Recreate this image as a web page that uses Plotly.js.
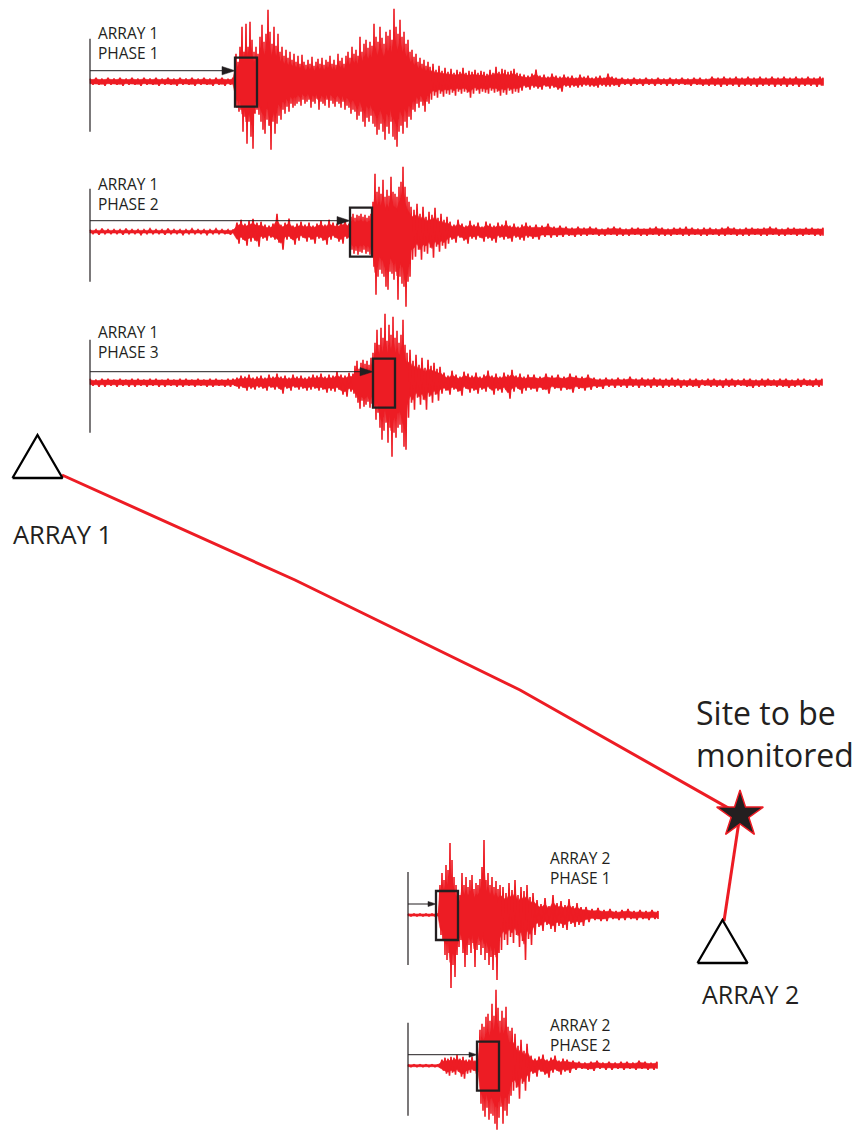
<!DOCTYPE html>
<html>
<head>
<meta charset="utf-8">
<script src="https://cdn.plot.ly/plotly-3.0.1.min.js"></script>
<style>html,body{margin:0;padding:0;background:#fff;}#chart{width:865px;height:1133px;}</style>
</head>
<body>
<div id="chart"></div>
<script>
// ---------------- DATA ----------------
// Seismogram envelopes: time (relative sample units) and positive / negative peak amplitude
const a1p1_t = [0,6,12,18,24,30,36,42,48,54,60,66,72,78,84,90,96,102,108,114,120,126,132,138,143,
  146,148,150,152,154,156,158,160,162,164,166,168,170,172,174,176,178,180,182,184,
  186,188,190,192,194,196,198,200,202,204,206,208,210,212,214,216,218,220,222,224,
  226,228,230,232,234,236,238,240,242,244,246,248,250,252,254,256,258,260,262,264,
  266,268,270,272,274,276,278,280,282,284,286,288,290,292,294,296,298,300,302,304,
  306,308,310,312,314,316,318,320,322,324,326,328,330,332,334,336,338,340,
  343,346,349,352,355,358,361,364,367,370,373,376,379,382,385,388,391,394,397,400,403,406,409,412,415,418,421,424,427,
  430,434,438,442,446,450,454,458,462,466,470,474,478,482,486,490,494,498,502,506,510,514,518,522,526,
  532,538,544,550,556,562,568,574,580,586,592,598,604,610,616,622,628,634,640,646,652,658,664,670,676,682,688,694,700,706,712,718,724,730,733];
const a1p1_up = [3,4,3,4,3,4,3,4,3,4,3,4,3,4,3,4,3,4,3,4,3,4,4,3,4,
  28,20,35,55,30,58,35,60,42,30, 35,28,45,57,40,48,72,50,38,55,
  36,48,30,35,26,32,24,30,22,28, 20,26,18,27,20,17,22,18,25,16,
  20,23,18,24,17,22,20,26,18,22, 17,28,21,24,18,26,30,24,35,28,
  32,26,45,30,38,42,34,40,36,58, 45,40,55,44,38,50,46,52,42,73,
  55,48,62,45,50,38,42,30,32,25, 28,20,24,18,22,16,20,15,
  18,12,16,11,14,10,13,9,12,10, 14,9,11,10,12,9,11,10,8,12, 9,15,10,13,12,10,11,13,9,
  8,7,6,8,12,6,7,5,8,6, 5,7,5,6,4,7,5,6,4,5, 6,4,8,5,4,
  4,3,4,3,4,3,4,3,4,3, 4,3,4,4,3,5,4,5,4,5, 4,5,4,5,4,5,4,5,4,5, 4,5,4,5,4];
const a1p1_dn = [3,3,4,3,3,4,3,3,4,3,3,4,3,3,4,3,3,4,3,3,4,3,4,3,4,
  26,30,28,50,35,62,40,55,67,32, 28,33,40,48,52,38,44,68,40,52,
  42,34,38,28,32,25,30,22,26,24, 22,20,24,18,22,20,18,26,20,22,
  17,28,20,22,24,18,26,19,22,25, 20,22,26,20,28,24,26,32,28,30,
  38,34,30,40,45,36,40,34,42,45, 53,48,42,50,58,45,52,40,55,58,
  65,50,44,52,40,46,35,38,28,30, 22,26,20,24,30,20,22,18,
  14,16,12,15,12,13,11,14,10,12, 10,11,16,12,9,12,10,11,12,9, 11,10,14,11,13,9,12,10,11,
  9,6,8,6,7,8,5,7,6,8, 10,5,6,5,6,5,4,5,5,6, 4,5,5,4,5,
  3,4,3,4,3,4,3,4,4,3, 3,4,3,4,4,4,5,4,4,5, 4,4,5,4,4,5,4,5,4,5, 4,4,5,4,4];

const a1p2_t = [0,6,12,18,24,30,36,42,48,54,60,66,72,78,84,90,96,102,108,114,120,126,132,138,143,
  147,151,155,159,163,167,171,175,179,183,187,191,195,199,203,207,211,215,219,223,227,231,235,239,243,247,251,255,259,
  261,263,265,267,269,271,273,275,277,279,281,
  283,285,287,289,291,293,295,297,299,301,303,305,307,309,311,313,315,317,319,321,
  324,327,330,333,336,339,342,345,348,351,354,357,
  360,364,368,372,376,380,384,388,392,396,400,404,408,412,416,420,424,428,432,436,440,
  446,452,458,464,470,476,482,488,494,500,506,512,518,524,530,536,542,548,554,560,566,572,578,584,590,596,602,608,614,620,626,632,638,644,650,656,662,668,674,680,686,692,698,704,710,716,722,728,733];
const a1p2_up = [2,2,3,2,2,2,3,2,2,2, 3,2,2,3,2,2,2,3,2,2, 2,3,2,2,2,
  9,12,8,11,13,9,10,7,6,8, 18,7,9,13,6,8,10,7,9,6, 8,11,7,12,9,8,10,12,8,
  15,18,14,17,16,18,15,17,14,16,18,
  30,58,40,45,38,52,35,42,36,55,40,38,35,45,50,65,45,35,30,25,
  22,28,18,25,15,20,17,24,14,18,12,15,
  10,7,12,8,6,11,7,9,5,10, 8,6,9,7,11,6,8,5,7,9, 6,
  7,6,8,5,6,5,4,5,4,5, 4,3,4,5,4,3,4,4,3,4, 5,4,3,4,4,5,4,3,4,4, 3,4,5,4,3,4,4,3,4,5, 4,3,4,4,3,4,4,3,4];
const a1p2_dn = [2,3,2,2,2,3,2,2,3,2, 2,2,3,2,2,3,2,2,2,3, 2,2,2,3,2,
  12,8,14,10,9,15,7,9,6,8, 11,18,8,7,13,9,6,10,8,12, 7,9,13,8,6,10,12,7,9,
  18,22,19,23,20,21,18,22,20,23,21,
  35,63,45,38,42,45,55,58,40,42,48,40,68,45,52,55,75,50,45,28,
  25,18,28,20,22,16,26,15,20,14,17,12,
  8,11,6,9,12,7,8,6,10,7, 9,11,6,8,7,10,6,8,9,6, 7,
  8,5,6,5,5,4,5,4,4,3, 4,4,3,4,4,4,3,4,4,3, 4,4,4,3,4,4,3,4,4,3, 4,4,3,4,4,4,3,4,4,3, 4,4,3,4,4,3,4,4,4];

const a1p3_t = [0,6,12,18,24,30,36,42,48,54,60,66,72,78,84,90,96,102,108,114,120,126,132,138,143,
  147,151,155,159,163,167,171,175,179,183,187,191,195,199,203,207,211,215,219,223,227,231,235,239,243,247,251,255,259,263,
  265,267,269,271,273,275,277,279,281,
  283,285,287,289,291,293,295,297,299,301,303,305,307,309,311,313,315,317,
  320,323,326,329,332,335,338,341,344,347,350,
  354,358,362,366,370,374,378,382,386,390,394,398,402,406,410,414,418,422,426,430,434,438,
  444,450,456,462,468,474,480,486,492,498,504,510,516,522,528,534,540,546,552,558,564,570,576,582,588,594,600,606,612,618,624,630,636,642,648,654,660,666,672,678,684,690,696,702,708,714,720,726,732];
const a1p3_up = [4,3,4,4,3,4,3,4,4,3, 4,4,3,4,3,4,4,3,4,3, 4,4,3,4,4,
  5,7,6,8,5,6,7,5,8,6, 9,6,7,5,8,6,7,5,6,8, 7,9,6,8,7,11,8,7,10,9,
  17,22,14,20,23,19,22,18,25,
  30,40,53,38,55,45,69,42,58,48,66,45,52,40,48,63,38,30,
  33,22,28,18,25,15,23,17,20,14,16,
  10,7,12,8,6,11,9,7,10,6, 8,12,7,9,6,10,8,13,7,9, 6,8,
  8,6,9,7,8,6,9,7,6,8, 5,4,5,4,5,4,6,4,5,4, 5,4,4,5,4,3,4,4,3,4, 4,3,4,4,3,4,4,3,4,4, 3,4,4,3,4,4,3,4,4];
const a1p3_dn = [3,4,4,3,4,3,4,4,3,4, 3,4,4,3,4,4,3,4,3,4, 4,3,4,4,3,
  6,5,8,6,7,5,6,8,5,7, 6,11,6,8,5,7,6,8,7,6, 8,7,10,8,9,7,12,14,9,11,
  15,20,26,18,24,22,19,25,21,
  25,37,30,45,57,48,40,60,45,74,50,55,45,42,50,64,67,35,
  20,27,15,22,17,27,14,20,12,18,11,
  8,12,7,9,13,6,10,8,11,7, 9,6,12,8,10,7,16,9,6,11, 8,7,
  9,7,11,6,8,7,10,6,8,7, 5,6,4,5,4,5,4,5,4,5, 4,5,4,4,5,4,4,5,3,4, 4,5,4,4,3,4,5,4,4,3, 4,4,5,4,4,3,4,4,3];

const a2p1_t = [0,6,12,18,24,30,
  32,34,36,38,40,42,44,46,48,50,52,54,56,58,60,62,64,66,68,70,72,74,76,78,80,82,84,86,88,90,92,
  95,98,101,104,107,110,113,116,119,122,125,
  129,133,137,141,145,149,153,157,161,165,169,173,
  178,184,190,196,202,208,214,220,226,232,238,244,250];
const a2p1_up = [1,1,1,1,1,1,
  30,42,35,50,45,72,55,38,30,25,20,42,30,38,28,35,40,26,32,30,36,48,75,35,42,30,38,28,34,26,30,
  28,22,32,25,35,20,28,24,30,18,22,
  15,11,17,9,20,12,14,10,16,9,12,8,
  8,6,7,5,6,4,5,6,4,5,4,5,4];
const a2p1_dn = [1,1,1,1,1,1,
  20,25,40,45,38,73,50,62,40,32,25,38,52,40,30,38,28,52,35,30,40,33,45,38,50,42,55,40,65,38,35,
  25,30,22,28,20,32,26,45,24,30,20,
  12,16,10,14,17,11,13,15,9,12,10,11,
  7,5,6,6,4,5,5,4,5,4,5,4,4];

const a2p2_t = [0,6,12,18,24,30,
  34,37,40,43,46,49,52,55,58,
  61,64,67,70,
  72,74,76,78,80,82,84,86,88,90,92,94,96,98,100,102,104,
  107,110,113,116,119,
  123,127,131,135,139,143,147,151,155,159,
  165,171,177,183,189,195,201,207,213,219,225,231,237,243,249];
const a2p2_up = [1,1,1,1,1,1,
  6,8,7,9,8,11,7,9,6,
  6,9,5,7,
  36,42,39,49,52,45,62,50,76,58,45,55,48,59,39,35,38,
  32,20,26,15,22,
  10,7,9,11,6,8,10,5,7,6,
  5,4,3,4,5,3,4,3,4,4,3,5,4,3,4];
const a2p2_dn = [1,1,1,1,1,1,
  5,8,10,7,9,6,11,13,8,
  7,5,8,6,
  38,45,51,42,54,48,50,58,64,52,41,58,45,50,38,30,25,
  22,33,18,25,16,
  8,11,6,9,12,7,5,9,6,7,
  4,3,4,5,3,4,4,3,4,3,4,3,4,4,3];

// Phase picks (time of onset on each trace)
const traceNames = ['a1p1','a1p2','a1p3','a2p1','a2p2'];
const pickTimes = [145, 260, 283, 28, 69];
const labelLine1 = ['ARRAY 1','ARRAY 1','ARRAY 1','ARRAY 2','ARRAY 2'];
const labelLine2 = ['PHASE 1','PHASE 2','PHASE 3','PHASE 1','PHASE 2'];

// Map: stations, monitored site and ray path
const stationNames = ['ARRAY 1','ARRAY 2'];
const stationX = [37.5, 722.5];
const stationY = [478, 963];
const siteX = [740];
const siteY = [814.6];
const siteLabel = ['Site to be', 'monitored'];
const pathX = [62, 295, 520, 740];
const pathY = [475, 580, 690, 814.6];
const path2X = [740, 724];
const path2Y = [814.6, 921];

// ---------------- STYLE / PLACEMENT ----------------
const RED = '#ed1c24';
const INK = '#231f20';
const FONT = 'Open Sans, Liberation Sans, sans-serif';
const place = {
  a1p1: {x0: 90,  yc: 81.7,   lx: 97,  ly: 42.5,  head: 13},
  a1p2: {x0: 90,  yc: 231.7,  lx: 97,  ly: 193.5, head: 13},
  a1p3: {x0: 90,  yc: 382.7,  lx: 97,  ly: 341.5, head: 13},
  a2p1: {x0: 408, yc: 915,    lx: 549, ly: 867.5, head: 8},
  a2p2: {x0: 408, yc: 1065.7, lx: 549, ly: 1034.8, head: 8}
};
const waves = {
  a1p1: [a1p1_t, a1p1_up, a1p1_dn],
  a1p2: [a1p2_t, a1p2_up, a1p2_dn],
  a1p3: [a1p3_t, a1p3_up, a1p3_dn],
  a2p1: [a2p1_t, a2p1_up, a2p1_dn],
  a2p2: [a2p2_t, a2p2_up, a2p2_dn]
};
const BOX_W = 22, BOX_UP = 24, BOX_DN = 25, BAR_UP = 43, BAR_DN = 50, ARROW_DY = 11;
const CORE = 0.65;   // solid core of the trace, as a fraction of the peak envelope

const traces = [];
const shapes = [];
const annotations = [];

traceNames.forEach(function(name, i) {
  const p = place[name];
  const w = waves[name];
  const t = w[0], up = w[1], dn = w[2];
  const n = Math.min(t.length, up.length, dn.length);
  // solid core band
  const cx = [], cy = [];
  for (let k = 0; k < n; k++) { cx.push(p.x0 + t[k]); cy.push(p.yc - Math.max(1, up[k] * CORE)); }
  for (let k = n - 1; k >= 0; k--) { cx.push(p.x0 + t[k]); cy.push(p.yc + Math.max(1, dn[k] * CORE)); }
  cx.push(cx[0]); cy.push(cy[0]);
  traces.push({type: 'scatter', mode: 'lines', x: cx, y: cy, fill: 'toself',
    fillcolor: RED, line: {color: RED, width: 0.6}, hoverinfo: 'skip'});
  // oscillation strokes: each sample swings from its positive to its negative peak
  const zx = [], zy = [];
  for (let k = 0; k < n; k++) {
    const half = k < n - 1 ? (t[k + 1] - t[k]) / 2 : 0;
    zx.push(p.x0 + t[k]); zy.push(p.yc - up[k]);
    zx.push(p.x0 + t[k] + half); zy.push(p.yc + dn[k]);
  }
  traces.push({type: 'scatter', mode: 'lines', x: zx, y: zy,
    line: {color: RED, width: 1.6}, hoverinfo: 'skip'});

  const pick = p.x0 + pickTimes[i];
  const ay = p.yc - ARROW_DY;
  // time-zero bar
  shapes.push({type: 'line', x0: p.x0, x1: p.x0, y0: p.yc - BAR_UP, y1: p.yc + BAR_DN,
    line: {color: INK, width: 1.2}});
  // arrow shaft + head
  shapes.push({type: 'line', x0: p.x0, x1: pick - p.head + 1, y0: ay, y1: ay,
    line: {color: INK, width: 1}});
  shapes.push({type: 'path', path: 'M' + pick + ',' + ay + ' L' + (pick - p.head) + ',' + (ay - p.head * 0.32) +
    ' L' + (pick - p.head) + ',' + (ay + p.head * 0.32) + ' Z', fillcolor: INK, line: {color: INK, width: 0.5}});
  // pick window
  shapes.push({type: 'rect', x0: pick, x1: pick + BOX_W, y0: p.yc - BOX_UP, y1: p.yc + BOX_DN,
    line: {color: INK, width: 2.3}});
  // label (two lines)
  annotations.push({x: p.lx, y: p.ly, xref: 'x', yref: 'y', text: labelLine1[i] + '<br>' + labelLine2[i],
    showarrow: false, align: 'left', xanchor: 'left', yanchor: 'middle',
    font: {family: FONT, size: 15.5, color: INK}, borderpad: 0});
});

// Ray paths
traces.push({type: 'scatter', mode: 'lines', x: pathX, y: pathY, line: {color: RED, width: 3}, hoverinfo: 'skip'});
traces.push({type: 'scatter', mode: 'lines', x: path2X, y: path2Y, line: {color: RED, width: 3}, hoverinfo: 'skip'});

// Station triangles
const TRI_W = 50, TRI_H = 43;
stationX.forEach(function(sx, i) {
  const by = stationY[i];
  traces.push({type: 'scatter', mode: 'lines',
    x: [sx - TRI_W / 2, sx, sx + TRI_W / 2, sx - TRI_W / 2],
    y: [by, by - TRI_H, by, by],
    fill: 'toself', fillcolor: '#ffffff', line: {color: '#000', width: 2.3}, hoverinfo: 'skip'});
});

// Site star
traces.push({type: 'scatter', mode: 'markers', x: siteX, y: siteY,
  marker: {symbol: 'star', size: 35, color: INK, line: {color: RED, width: 1.5}}, hoverinfo: 'skip'});

// Big labels
annotations.push({x: 12, y: 533.5, xref: 'x', yref: 'y', text: stationNames[0], showarrow: false,
  xanchor: 'left', yanchor: 'middle', font: {family: FONT, size: 25.5, color: INK}, borderpad: 0});
annotations.push({x: 701, y: 994, xref: 'x', yref: 'y', text: stationNames[1], showarrow: false,
  xanchor: 'left', yanchor: 'middle', font: {family: FONT, size: 25, color: INK}, borderpad: 0});
annotations.push({x: 695, y: 733, xref: 'x', yref: 'y', text: siteLabel[0] + '<br>' + siteLabel[1], showarrow: false,
  align: 'left', xanchor: 'left', yanchor: 'middle', font: {family: FONT, size: 32, color: INK}, borderpad: 0});

const layout = {
  width: 865, height: 1133,
  margin: {l: 0, r: 0, t: 0, b: 0, pad: 0},
  paper_bgcolor: '#ffffff', plot_bgcolor: '#ffffff',
  showlegend: false,
  xaxis: {range: [0, 865], visible: false, fixedrange: true},
  yaxis: {range: [1133, 0], visible: false, fixedrange: true},
  shapes: shapes,
  annotations: annotations
};

Plotly.newPlot('chart', traces, layout, {displayModeBar: false, staticPlot: true});
</script>
</body>
</html>
